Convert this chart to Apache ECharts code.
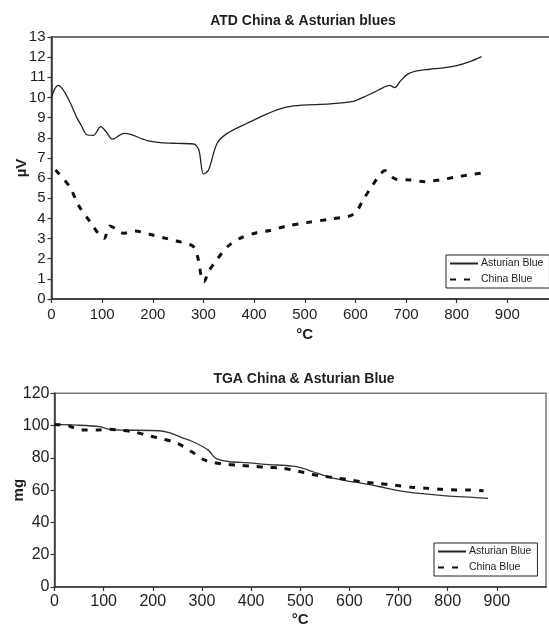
<!DOCTYPE html>
<html>
<head>
<meta charset="utf-8">
<title>ATD / TGA – China &amp; Asturian blues</title>
<script src="https://cdn.jsdelivr.net/npm/echarts@6/dist/echarts.min.js"></script>
<style>
  html, body { margin: 0; padding: 0; background: #fff; }
  #chart { width: 549px; height: 630px; }
</style>
</head>
<body>
<div id="chart"></div>
<script>
// ---- ATD (differential thermal analysis), signal in µV vs temperature in °C ----
const atdAsturianT = [0, 6, 13, 21, 34, 50, 58, 70, 83, 97, 108, 120, 143, 156, 189, 215, 250, 281, 291, 300, 310, 327, 347, 386, 445, 478, 550, 593, 615, 635, 655, 667, 678, 688, 704, 721, 747, 777, 800, 826, 849];
const atdAsturianV = [10.0, 10.4, 10.6, 10.45, 9.9, 9.0, 8.65, 8.15, 8.12, 8.55, 8.3, 7.93, 8.22, 8.17, 7.86, 7.76, 7.72, 7.69, 7.39, 6.2, 6.4, 7.73, 8.22, 8.72, 9.38, 9.58, 9.68, 9.79, 10.0, 10.24, 10.49, 10.6, 10.49, 10.79, 11.17, 11.32, 11.4, 11.48, 11.58, 11.78, 12.03];
const atdChinaT = [8, 36, 53, 76, 96, 104, 115, 125, 142, 165, 194, 221, 247, 273, 283, 290, 297, 301, 310, 326, 349, 372, 405, 431, 464, 504, 550, 573, 589, 602, 615, 632, 648, 658, 668, 681, 707, 737, 767, 796, 822, 849];
const atdChinaV = [6.4, 5.57, 4.66, 3.84, 3.13, 3.01, 3.62, 3.51, 3.26, 3.37, 3.21, 3.04, 2.88, 2.71, 2.52, 1.94, 0.94, 0.86, 1.36, 1.94, 2.63, 3.01, 3.29, 3.4, 3.62, 3.79, 3.96, 4.05, 4.12, 4.33, 4.91, 5.57, 6.15, 6.37, 6.15, 5.94, 5.91, 5.82, 5.91, 6.04, 6.15, 6.24];

// ---- TGA (thermogravimetric analysis), mass in mg vs temperature in °C ----
const tgaAsturianT = [0, 45, 92, 113, 140, 214, 235, 258, 282, 313, 323, 330, 357, 391, 431, 485, 499, 526, 560, 594, 621, 662, 702, 743, 797, 851, 882];
const tgaAsturianM = [100.7, 100.3, 99.3, 97.6, 97.2, 96.8, 95.5, 92.7, 90.0, 84.8, 81.1, 79.4, 77.6, 77.0, 76.0, 74.9, 74.1, 71.4, 67.9, 65.8, 64.5, 62.1, 59.6, 58.0, 56.5, 55.5, 54.9];
const tgaChinaT = [0, 28, 55, 86, 113, 130, 160, 187, 214, 241, 260, 286, 306, 323, 343, 374, 401, 431, 462, 492, 509, 540, 570, 601, 628, 658, 689, 729, 760, 787, 818, 845, 873];
const tgaChinaM = [100.7, 99.9, 97.2, 97.2, 97.8, 97.2, 96.2, 94.1, 92.1, 90.0, 87.4, 82.4, 78.6, 77.2, 76.2, 75.4, 74.9, 74.1, 73.7, 72.0, 70.8, 68.9, 67.7, 66.3, 65.0, 64.2, 63.2, 61.7, 61.1, 60.5, 60.1, 60.1, 59.6];

// ---- axis ranges / ticks ----
const tempRange = [0, 1000, 100];   // min, max, step (°C)
const atdRange = [0, 13, 1];        // µV
const tgaRange = [0, 120, 20];      // mg

const seriesNames = ['Asturian Blue', 'China Blue'];

const zip = (xs, ys) => xs.map((x, i) => [x, ys[i]]);

const FONT = 'Liberation Sans, Arial, sans-serif';
const INK = '#1e1e1e';

function tempAxis(gridIndex, opts) {
  return {
    type: 'value', gridIndex,
    min: tempRange[0], max: tempRange[1], interval: tempRange[2],
    name: '°C', nameLocation: 'middle', nameGap: opts.nameGap, nameMoveOverlap: false,
    nameTextStyle: { fontFamily: FONT, fontWeight: 'bold', fontSize: 15, color: INK },
    axisLine: { onZero: false, lineStyle: { color: '#333', width: 1.5 } },
    axisTick: { show: true, inside: false, length: 4, lineStyle: { color: '#333', width: 1.2 } },
    axisLabel: { fontFamily: FONT, fontSize: opts.fontSize, color: INK, margin: opts.margin, showMaxLabel: false },
    splitLine: { show: false }
  };
}

function valueAxis(gridIndex, range, name, opts) {
  return {
    type: 'value', gridIndex,
    min: range[0], max: range[1], interval: range[2],
    name, nameLocation: 'middle', nameRotate: 90, nameGap: opts.nameGap, nameMoveOverlap: false,
    nameTextStyle: { fontFamily: FONT, fontWeight: 'bold', fontSize: 15, color: INK },
    axisLine: { show: true, lineStyle: { color: '#333', width: 1.5 } },
    axisTick: { show: true, inside: false, length: 4, lineStyle: { color: '#333', width: 1.2 } },
    axisLabel: { fontFamily: FONT, fontSize: opts.fontSize, color: INK, margin: opts.margin },
    splitLine: { show: false }
  };
}

function legendBox(left, top) {
  return {
    data: seriesNames, orient: 'vertical', left, top,
    backgroundColor: '#fff', borderColor: '#222', borderWidth: 1, borderRadius: 0,
    padding: [3, 6, 3, 3], itemWidth: 28, itemHeight: 12, itemGap: 5,
    selectedMode: false,
    // only the line sample is wanted in each key, no marker symbol
    itemStyle: { opacity: 0 },
    textStyle: { fontFamily: FONT, fontSize: 10.5, color: INK, padding: [0, 0, 0, -2] }
  };
}

const solid = (color) => ({ color, width: 1.3, type: 'solid' });
const dashed = { color: '#111', width: 3, type: [6, 8], cap: 'butt' };

const option = {
  animation: false,
  backgroundColor: '#fff',
  title: [
    { text: 'ATD China & Asturian blues', left: 298, top: 9, textAlign: 'center',
      textStyle: { fontFamily: FONT, fontWeight: 'bold', fontSize: 14, color: INK } },
    { text: 'TGA China & Asturian Blue', left: 299, top: 367, textAlign: 'center',
      textStyle: { fontFamily: FONT, fontWeight: 'bold', fontSize: 14, color: INK } }
  ],
  legend: [legendBox(446, 255), legendBox(434, 543)],
  grid: [
    { left: 51.5, top: 37, right: -9, bottom: 331, containLabel: false, outerBoundsMode: 'none',
      show: true, borderColor: '#444', borderWidth: 1.5, backgroundColor: 'transparent' },
    { left: 54.5, top: 393.3, right: 3, bottom: 43, containLabel: false, outerBoundsMode: 'none',
      show: true, borderColor: '#777', borderWidth: 1.5, backgroundColor: 'transparent' }
  ],
  xAxis: [
    tempAxis(0, { nameGap: 28, fontSize: 15, margin: 8 }),
    tempAxis(1, { nameGap: 25, fontSize: 16, margin: 7 })
  ],
  yAxis: [
    valueAxis(0, atdRange, 'µV', { nameGap: 22, fontSize: 15, margin: 6 }),
    valueAxis(1, tgaRange, 'mg', { nameGap: 28, fontSize: 16, margin: 5 })
  ],
  series: [
    { name: seriesNames[0], type: 'line', xAxisIndex: 0, yAxisIndex: 0,
      data: zip(atdAsturianT, atdAsturianV), showSymbol: false, symbol: 'none',
      smooth: 0.3, lineStyle: solid('#222'), itemStyle: { color: '#222' } },
    { name: seriesNames[1], type: 'line', xAxisIndex: 0, yAxisIndex: 0,
      data: zip(atdChinaT, atdChinaV), showSymbol: false, symbol: 'none',
      smooth: 0.3, lineStyle: dashed, itemStyle: { color: '#111' } },
    { name: seriesNames[0], type: 'line', xAxisIndex: 1, yAxisIndex: 1,
      data: zip(tgaAsturianT, tgaAsturianM), showSymbol: false, symbol: 'none',
      smooth: 0.3, lineStyle: solid('#333'), itemStyle: { color: '#333' } },
    { name: seriesNames[1], type: 'line', xAxisIndex: 1, yAxisIndex: 1,
      data: zip(tgaChinaT, tgaChinaM), showSymbol: false, symbol: 'none',
      smooth: 0.3, lineStyle: dashed, itemStyle: { color: '#111' } }
  ]
};

const chart = echarts.init(document.getElementById('chart'), null, { renderer: 'canvas' });
chart.setOption(option);
</script>
</body>
</html>
